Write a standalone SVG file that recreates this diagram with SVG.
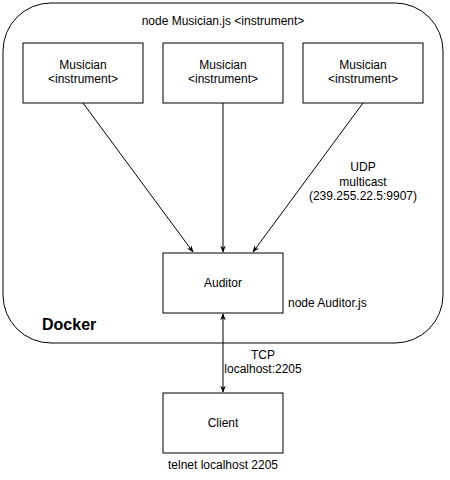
<svg xmlns="http://www.w3.org/2000/svg" width="450" height="480" viewBox="0 0 450 480">
<style>
.box{fill:#fff;stroke:#000;stroke-width:1}
text{font-family:"Liberation Sans",Arial,sans-serif;font-size:12px;fill:#000}
.c{text-anchor:middle}
.e{stroke:#000;stroke-width:1;fill:none}
</style>
<defs>
<marker id="ah" viewBox="0 0 10 10" refX="9" refY="5" markerWidth="7" markerHeight="7" orient="auto-start-reverse" markerUnits="userSpaceOnUse">
<path d="M0,1 L10,5 L0,9 L3,5 Z" fill="#000"/>
</marker>
</defs>
<rect width="450" height="480" fill="#fff"/>
<g id="docker">
<rect class="box" x="3" y="3" width="440" height="340" rx="48" ry="48"/>
<text x="223" y="25" class="c">node Musician.js &lt;instrument&gt;</text>
<text x="42" y="330" style="font-weight:bold;font-size:16px">Docker</text>
</g>
<g id="connectors">
<line class="e" x1="83" y1="103" x2="193" y2="252" marker-end="url(#ah)"/>
<line class="e" x1="223" y1="103" x2="223" y2="252" marker-end="url(#ah)"/>
<line class="e" x1="363" y1="103" x2="253" y2="252" marker-end="url(#ah)"/>
<line class="e" x1="223" y1="314" x2="223" y2="392" marker-start="url(#ah)" marker-end="url(#ah)"/>
<text x="363" y="171" class="c">UDP</text>
<text x="363" y="186" class="c">multicast</text>
<text x="363" y="200" class="c">(239.255.22.5:9907)</text>
<text x="263" y="359" class="c">TCP</text>
<text x="263" y="373" class="c">localhost:2205</text>
</g>
<g id="musician1">
<rect class="box" x="23" y="43" width="120" height="60"/>
<text x="83" y="69" class="c">Musician</text>
<text x="83" y="83" class="c">&lt;instrument&gt;</text>
</g>
<g id="musician2">
<rect class="box" x="163" y="43" width="120" height="60"/>
<text x="223" y="69" class="c">Musician</text>
<text x="223" y="83" class="c">&lt;instrument&gt;</text>
</g>
<g id="musician3">
<rect class="box" x="303" y="43" width="120" height="60"/>
<text x="363" y="69" class="c">Musician</text>
<text x="363" y="83" class="c">&lt;instrument&gt;</text>
</g>
<g id="auditor">
<rect class="box" x="163" y="253" width="120" height="60"/>
<text x="223" y="287" class="c">Auditor</text>
<text x="288" y="307">node Auditor.js</text>
</g>
<g id="client">
<rect class="box" x="163" y="393" width="120" height="60"/>
<text x="223" y="427" class="c">Client</text>
<text x="223" y="469" class="c">telnet localhost 2205</text>
</g>
</svg>
